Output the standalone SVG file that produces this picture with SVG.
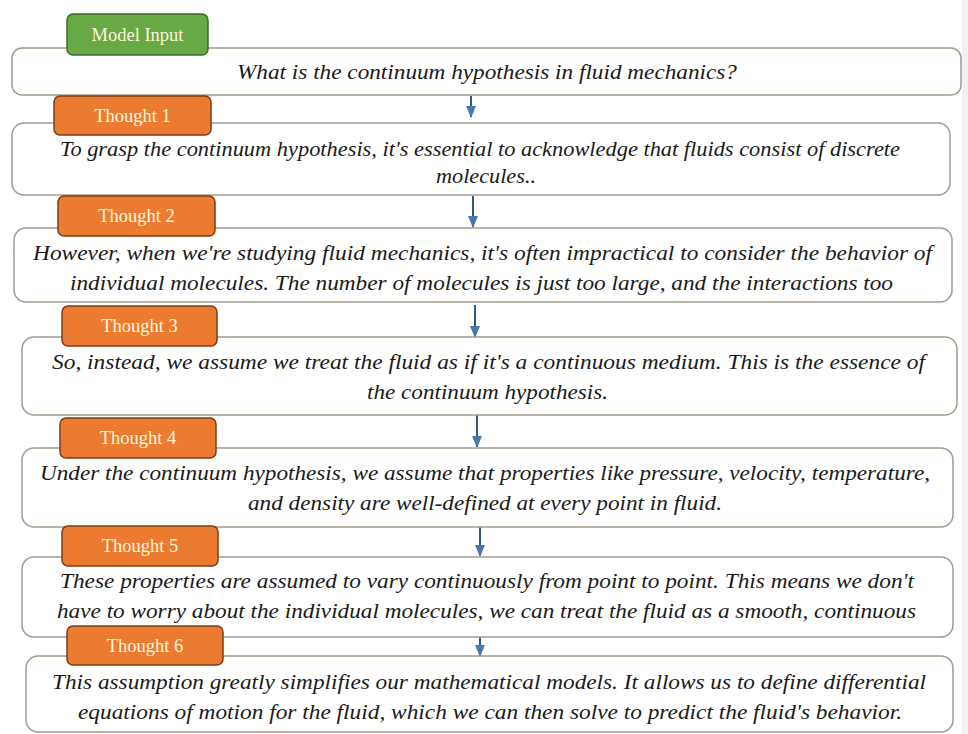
<svg xmlns="http://www.w3.org/2000/svg" width="968" height="734" viewBox="0 0 968 734">
<defs>
<marker id="ah" viewBox="0 0 12 10" refX="11" refY="5" markerWidth="12" markerHeight="10" markerUnits="userSpaceOnUse" orient="auto">
<path d="M0,0 L12,5 L0,10 Z" fill="#4a78ad"/>
</marker>
<style>
.box{fill:#ffffff;stroke:#a39a8c;stroke-width:1.5}
.lab-g{fill:#69a945;stroke:#3f6a2b;stroke-width:1.5}
.lab-o{fill:#ec7b32;stroke:#7f3a14;stroke-width:1.5}
.lt{font-family:"Liberation Serif","DejaVu Serif",serif;font-size:18.5px;fill:#fff6dc;text-anchor:middle}
.bt{font-family:"Liberation Serif","DejaVu Serif",serif;font-style:italic;font-size:22px;fill:#1a1a1a}
.con{stroke:#34577f;stroke-width:2;fill:none}
</style>
</defs>
<rect width="968" height="734" fill="#ffffff"/>
<rect x="962" y="0" width="6" height="734" fill="#f1f1f1"/>

<g id="connectors">
<line class="con" x1="471" y1="96" x2="471" y2="117" marker-end="url(#ah)"/>
<line class="con" x1="473" y1="196" x2="473" y2="227" marker-end="url(#ah)"/>
<line class="con" x1="475" y1="305" x2="475" y2="337" marker-end="url(#ah)"/>
<line class="con" x1="477" y1="415" x2="477" y2="447" marker-end="url(#ah)"/>
<line class="con" x1="480" y1="525" x2="480" y2="556" marker-end="url(#ah)"/>
<line class="con" x1="480" y1="637" x2="480" y2="656" marker-end="url(#ah)"/>
</g>

<g id="input">
<rect class="box" x="12" y="48" width="949" height="47" rx="10"/>
<text class="bt" x="237" y="79" textLength="500" lengthAdjust="spacingAndGlyphs">What is the continuum hypothesis in fluid mechanics?</text>
<rect class="lab-g" x="67" y="14" width="141" height="41" rx="6"/>
<text class="lt" x="137.5" y="41">Model Input</text>
</g>

<g id="thought1">
<rect class="box" x="12" y="123" width="938" height="72" rx="12"/>
<text class="bt" x="60" y="156" textLength="840" lengthAdjust="spacingAndGlyphs">To grasp the continuum hypothesis, it's essential to acknowledge that fluids consist of discrete</text>
<text class="bt" x="436" y="183" textLength="100" lengthAdjust="spacingAndGlyphs">molecules..</text>
<rect class="lab-o" x="54" y="96" width="157" height="39" rx="6"/>
<text class="lt" x="132.5" y="122">Thought 1</text>
</g>

<g id="thought2">
<rect class="box" x="14" y="228" width="938" height="74" rx="12"/>
<text class="bt" x="33" y="260" textLength="899" lengthAdjust="spacingAndGlyphs">However, when we're studying fluid mechanics, it's often impractical to consider the behavior of</text>
<text class="bt" x="70" y="290" textLength="823" lengthAdjust="spacingAndGlyphs">individual molecules. The number of molecules is just too large, and the interactions too</text>
<rect class="lab-o" x="58" y="196" width="157" height="40" rx="6"/>
<text class="lt" x="136.5" y="222">Thought 2</text>
</g>

<g id="thought3">
<rect class="box" x="22" y="337" width="935" height="78" rx="12"/>
<text class="bt" x="52" y="369" textLength="873" lengthAdjust="spacingAndGlyphs">So, instead, we assume we treat the fluid as if it's a continuous medium. This is the essence of</text>
<text class="bt" x="367" y="399" textLength="241" lengthAdjust="spacingAndGlyphs">the continuum hypothesis.</text>
<rect class="lab-o" x="62" y="306" width="155" height="40" rx="6"/>
<text class="lt" x="139.5" y="332">Thought 3</text>
</g>

<g id="thought4">
<rect class="box" x="22" y="448" width="931" height="79" rx="12"/>
<text class="bt" x="40" y="480" textLength="890" lengthAdjust="spacingAndGlyphs">Under the continuum hypothesis, we assume that properties like pressure, velocity, temperature,</text>
<text class="bt" x="248" y="510" textLength="474" lengthAdjust="spacingAndGlyphs">and density are well-defined at every point in fluid.</text>
<rect class="lab-o" x="60" y="418" width="156" height="40" rx="6"/>
<text class="lt" x="138" y="444">Thought 4</text>
</g>

<g id="thought5">
<rect class="box" x="22" y="557" width="931" height="80" rx="12"/>
<text class="bt" x="60" y="588" textLength="854" lengthAdjust="spacingAndGlyphs">These properties are assumed to vary continuously from point to point. This means we don't</text>
<text class="bt" x="57" y="618" textLength="859" lengthAdjust="spacingAndGlyphs">have to worry about the individual molecules, we can treat the fluid as a smooth, continuous</text>
<rect class="lab-o" x="62" y="526" width="156" height="40" rx="6"/>
<text class="lt" x="140" y="552">Thought 5</text>
</g>

<g id="thought6">
<rect class="box" x="26" y="656" width="927" height="76" rx="12"/>
<text class="bt" x="52" y="689" textLength="874" lengthAdjust="spacingAndGlyphs">This assumption greatly simplifies our mathematical models. It allows us to define differential</text>
<text class="bt" x="78" y="719" textLength="824" lengthAdjust="spacingAndGlyphs">equations of motion for the fluid, which we can then solve to predict the fluid's behavior.</text>
<rect class="lab-o" x="67" y="626" width="156" height="39" rx="6"/>
<text class="lt" x="145" y="652">Thought 6</text>
</g>
</svg>
